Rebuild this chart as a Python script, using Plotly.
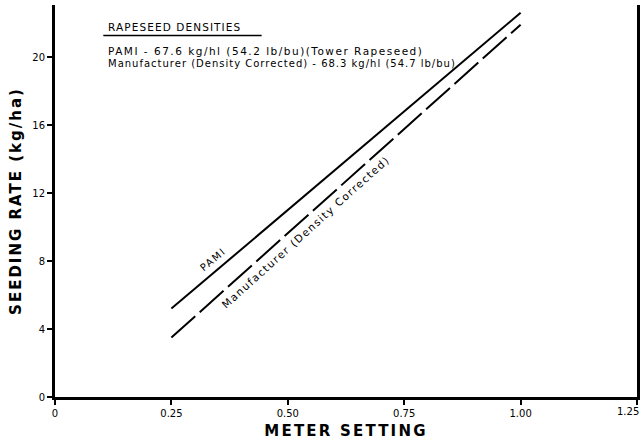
import plotly.graph_objects as go

# Calibration lines: seeding rate vs. meter setting
meter_setting = [0.25, 1.00]
pami_rate = [5.2, 22.6]
manufacturer_rate = [3.5, 21.9]

x_ticks = [0, 0.25, 0.50, 0.75, 1.00, 1.25]
x_tick_text = ["0", "0.25", "0.50", "0.75", "1.00", "1.25"]
y_ticks = [0, 4, 8, 12, 16, 20]

FONT = "DejaVu Sans"


def spaced(text, px):
    """Wrap text in a span with extra letter spacing (stencil-lettering look)."""
    return f'<span style="letter-spacing:{px}px">{text}</span>'


fig = go.Figure()
fig.add_trace(go.Scatter(x=meter_setting, y=pami_rate, mode="lines",
                         line=dict(color="black", width=2), name="PAMI"))
fig.add_trace(go.Scatter(x=meter_setting, y=manufacturer_rate, mode="lines",
                         line=dict(color="black", width=2, dash="32px,6px"),
                         name="Manufacturer (Density Corrected)"))

# Line labels running along the lines
fig.add_annotation(x=0.339, y=8.1, text=spaced("PAMI", 1.5), showarrow=False,
                   textangle=-40, font=dict(family=FONT, size=10, color="black"))
fig.add_annotation(x=0.538, y=9.7,
                   text=spaced("Manufacturer (Density Corrected)", 1.4),
                   showarrow=False, textangle=-42,
                   font=dict(family=FONT, size=10.5, color="black"))

# Last x tick label sits at the right edge, so it is right-aligned to stay visible
fig.add_annotation(x=x_ticks[-1], y=0, yref="y", text=x_tick_text[-1],
                   showarrow=False, xanchor="right", yanchor="top",
                   xshift=4, yshift=-7, font=dict(family=FONT, size=10, color="black"))

# Density legend block
fig.add_annotation(xref="paper", yref="paper", x=0.088, y=0.945, xanchor="left",
                   yanchor="middle", text=spaced("RAPESEED DENSITIES", 1.1),
                   showarrow=False, font=dict(family=FONT, size=10.5, color="black"))
fig.add_shape(type="line", xref="paper", yref="paper", x0=0.083, x1=0.355,
              y0=0.922, y1=0.922, line=dict(color="black", width=1.5))
fig.add_annotation(xref="paper", yref="paper", x=0.088, y=0.882, xanchor="left",
                   yanchor="middle",
                   text=spaced("PAMI - 67.6 kg/hl (54.2 lb/bu)(Tower Rapeseed)", 1.5),
                   showarrow=False, font=dict(family=FONT, size=10.5, color="black"))
fig.add_annotation(xref="paper", yref="paper", x=0.088, y=0.851, xanchor="left",
                   yanchor="middle",
                   text=spaced("Manufacturer (Density Corrected) - 68.3 kg/hl (54.7 lb/bu)", 1.0),
                   showarrow=False, font=dict(family=FONT, size=10, color="black"))

fig.update_layout(
    width=641, height=442,
    margin=dict(l=55, r=4, t=5, b=45, autoexpand=False),
    paper_bgcolor="white", plot_bgcolor="white",
    showlegend=False,
    font=dict(family=FONT, color="black"),
    xaxis=dict(range=[0, 1.25], tickvals=x_ticks,
               ticktext=x_tick_text[:-1] + [""],
               showgrid=False, zeroline=False, showline=True, linewidth=3,
               linecolor="black", ticks="outside", ticklen=5, tickwidth=2,
               tickcolor="black", tickfont=dict(family=FONT, size=10),
               automargin=False,
               title=dict(text="<b>" + spaced("METER SETTING", 2.2) + "</b>",
                          standoff=8, font=dict(family=FONT, size=15))),
    yaxis=dict(range=[0, 23.06], tickvals=y_ticks, showgrid=False,
               zeroline=False, showline=True, linewidth=3, linecolor="black",
               mirror=True, ticks="outside", ticklen=5, tickwidth=2,
               tickcolor="black", tickfont=dict(family=FONT, size=10),
               automargin=False,
               title=dict(text="<b>" + spaced("SEEDING RATE (kg/ha)", 2) + "</b>",
                          standoff=8, font=dict(family=FONT, size=15))),
)

fig.write_html("out.html")
